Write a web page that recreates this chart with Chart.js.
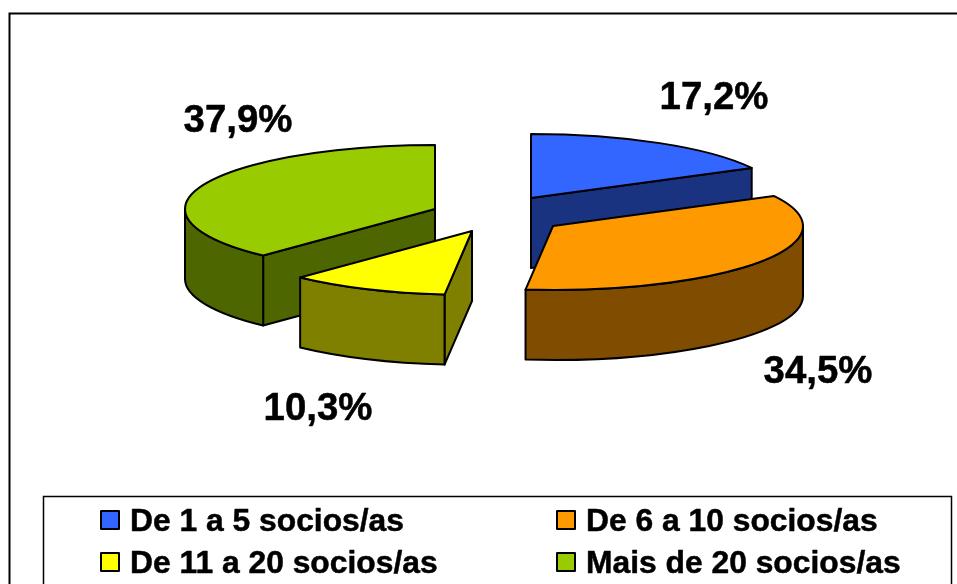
<!DOCTYPE html>
<html>
<head>
<meta charset="utf-8">
<style>html,body{margin:0;padding:0;background:#fff;overflow:hidden}#wrap{width:957px;height:584px}</style>
<script src="https://cdn.jsdelivr.net/npm/chart.js@4"></script>
</head>
<body>
<div id="wrap"><canvas id="c" width="957" height="584"></canvas></div>
<script>
const categories = ['De 1 a 5 socios/as', 'De 6 a 10 socios/as', 'De 11 a 20 socios/as', 'Mais de 20 socios/as'];
const shares = [17.2, 34.5, 10.3, 37.9];
const topColors = ['#3366FF', '#FF9900', '#FFFF00', '#99CC00'];
const wallColors = ['#1A3380', '#804D00', '#808000', '#4D6600'];

// Styling of the 3D projection
const pieRadius = 250;
const tilt = 64 / pieRadius, depth = 70;
const explodeX = [39, 61, -20, -57];
const explodeY = [-17, 11, 16, -6];
const labelX = [714, 818, 318, 238];
const labelY = [98, 372, 409, 121];
const legendCols = [101, 557];
const legendRows = [511, 553];

const pie3d = {
  id: 'pie3d',
  beforeDraw(chart) {
    const ctx = chart.ctx;
    ctx.save();
    ctx.strokeStyle = '#000';
    ctx.lineWidth = 2;
    ctx.strokeRect(9.5, 13.5, 1000, 700);
    ctx.fillStyle = '#fff';
    ctx.lineWidth = 1.5;
    ctx.fillRect(43, 496.5, 909, 200);
    ctx.strokeRect(43.5, 496.5, 908, 200);
    ctx.restore();
  },
  beforeDatasetDraw(chart, args) {
    const ctx = chart.ctx;
    const arcs = args.meta.data;
    const project = (arc, i) => {
      ctx.translate(arc.x + explodeX[i], arc.y + explodeY[i]);
      ctx.scale(1, tilt);
      ctx.translate(-arc.x, -arc.y);
    };
    const dz = depth / tilt;
    const outline = () => {
      ctx.strokeStyle = '#000';
      ctx.lineWidth = 2;
      ctx.lineJoin = 'round';
      ctx.stroke();
    };
    const fillStroke = (fill) => {
      ctx.fillStyle = fill;
      ctx.fill();
      outline();
    };
    const drawWalls = (arc, i) => {
      const a = arc.startAngle, b = arc.endAngle, r = arc.outerRadius, x = arc.x, y = arc.y;
      const face = (ang) => {
        ctx.save();
        project(arc, i);
        ctx.beginPath();
        ctx.moveTo(x, y);
        ctx.lineTo(x + r * Math.cos(ang), y + r * Math.sin(ang));
        ctx.lineTo(x + r * Math.cos(ang), y + r * Math.sin(ang) + dz);
        ctx.lineTo(x, y + dz);
        ctx.closePath();
        ctx.restore();
        fillStroke(wallColors[i]);
      };
      if (Math.cos(a) < -1e-6) face(a);
      if (Math.cos(b) > 1e-6) face(b);
      const from = Math.max(a, 0), to = Math.min(b, Math.PI);
      if (to > from) {
        ctx.save();
        project(arc, i);
        ctx.beginPath();
        ctx.arc(x, y, r, from, to);
        ctx.arc(x, y + dz, r, to, from, true);
        ctx.closePath();
        ctx.restore();
        fillStroke(wallColors[i]);
      }
    };
    const drawTop = (arc, i) => {
      ctx.save();
      project(arc, i);
      arc.draw(ctx);
      ctx.beginPath();
      ctx.moveTo(arc.x, arc.y);
      ctx.arc(arc.x, arc.y, arc.outerRadius, arc.startAngle, arc.endAngle);
      ctx.closePath();
      ctx.restore();
      outline();
    };
    [0, 3, 2, 1].forEach(i => drawWalls(arcs[i], i));
    [0, 3, 2, 1].forEach(i => drawTop(arcs[i], i));
    return false;
  },
  afterDraw(chart) {
    const ctx = chart.ctx;
    ctx.save();
    ctx.fillStyle = '#000';
    ctx.strokeStyle = '#000';
    ctx.lineWidth = 0.5;
    ctx.lineJoin = 'round';
    ctx.font = 'bold 38.4px "Liberation Sans"';
    ctx.textAlign = 'center';
    ctx.textBaseline = 'middle';
    shares.forEach((v, i) => {
      const txt = v.toFixed(1).replace('.', ',') + '%';
      ctx.fillText(txt, labelX[i], labelY[i]);
      ctx.strokeText(txt, labelX[i], labelY[i]);
    });
    ctx.font = 'bold 31.8px "Liberation Sans"';
    ctx.textAlign = 'left';
    ctx.textBaseline = 'alphabetic';
    // legend order: row 1 blue/orange, row 2 yellow/green
    categories.forEach((name, i) => {
      const col = i % 2, row = i >> 1;
      const sx = legendCols[col], sy = legendRows[row];
      ctx.fillStyle = topColors[i];
      ctx.fillRect(sx, sy, 18, 18);
      ctx.strokeStyle = '#000';
      ctx.lineWidth = 2;
      ctx.strokeRect(sx, sy, 18, 18);
      ctx.fillStyle = '#000';
      ctx.lineWidth = 0.5;
      ctx.fillText(name, sx + 29, sy + 19.5);
      ctx.strokeText(name, sx + 29, sy + 19.5);
    });
    ctx.restore();
  }
};

new Chart(document.getElementById('c'), {
  type: 'pie',
  data: {
    labels: categories,
    datasets: [{ data: shares, backgroundColor: topColors, borderWidth: 0 }]
  },
  options: {
    responsive: false,
    animation: false,
    radius: pieRadius,
    layout: { padding: { left: 27, bottom: 154 } },
    plugins: { legend: { display: false }, tooltip: { enabled: false } }
  },
  plugins: [pie3d]
});
</script>
</body>
</html>
